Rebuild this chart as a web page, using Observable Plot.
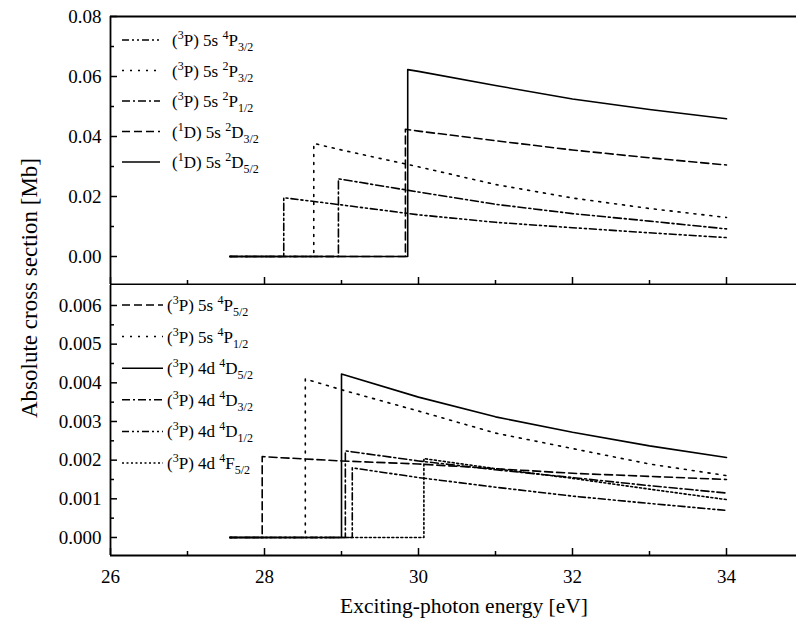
<!DOCTYPE html>
<html><head><meta charset="utf-8">
<script src="https://cdn.jsdelivr.net/npm/d3@7"></script>
<script src="https://cdn.jsdelivr.net/npm/@observablehq/plot@0.6"></script>
<style>
body{margin:0;background:#fff;}
#wrap{position:relative;width:796px;height:623px;overflow:hidden;font-family:"Liberation Serif","Times New Roman",serif;color:#000;}
#wrap svg{display:block;}
.ytitle{position:absolute;left:30px;top:288px;transform:translate(-50%,-50%) rotate(-90deg);font-size:23px;white-space:nowrap;}
.xtitle{position:absolute;left:464px;top:606px;transform:translate(-50%,-50%);font-size:21.5px;white-space:nowrap;}
</style></head><body><div id="wrap"></div><script>
// ---------- data ----------
const xTicksMajor = [26, 28, 30, 32, 34];
const xTicksMinor = [27, 29, 31, 33, 35];
const topTicksMajor = [0, 0.02, 0.04, 0.06, 0.08];
const topTicksMinor = [0.01, 0.03, 0.05, 0.07];
const botTicksMajor = [0, 0.001, 0.002, 0.003, 0.004, 0.005, 0.006];
const botTicksMinor = [0.0005, 0.0015, 0.0025, 0.0035, 0.0045, 0.0055];

// top panel series
const topLabels = ["(3P) 5s 4P3/2", "(3P) 5s 2P3/2", "(3P) 5s 2P1/2", "(1D) 5s 2D3/2", "(1D) 5s 2D5/2"];
const e_5s4P32 = [27.55, 28.25, 28.25, 29, 30, 31, 32, 33, 34];
const s_5s4P32 = [0, 0, 0.0196, 0.0172, 0.0139, 0.0114, 0.0096, 0.0079, 0.0063];
const e_5s2P32 = [27.55, 28.64, 28.64, 29, 30, 31, 32, 33, 34];
const s_5s2P32 = [0, 0, 0.0377, 0.0355, 0.0299, 0.0240, 0.0195, 0.0160, 0.0130];
const e_5s2P12 = [27.55, 28.96, 28.96, 30, 31, 32, 33, 34];
const s_5s2P12 = [0, 0, 0.0259, 0.0215, 0.0174, 0.0143, 0.0118, 0.0092];
const e_5s2D32 = [27.55, 29.83, 29.83, 30, 31, 32, 33, 34];
const s_5s2D32 = [0, 0, 0.0424, 0.0418, 0.0386, 0.0355, 0.0329, 0.0305];
const e_5s2D52 = [27.55, 29.86, 29.86, 30, 31, 32, 33, 34];
const s_5s2D52 = [0, 0, 0.0623, 0.0617, 0.0570, 0.0525, 0.0490, 0.0459];

// bottom panel series
const botLabels = ["(3P) 5s 4P5/2", "(3P) 5s 4P1/2", "(3P) 4d 4D5/2", "(3P) 4d 4D3/2", "(3P) 4d 4D1/2", "(3P) 4d 4F5/2"];
const e_5s4P52 = [27.55, 27.97, 27.97, 29, 30, 31, 32, 33, 34];
const s_5s4P52 = [0, 0, 0.00209, 0.00198, 0.00190, 0.00178, 0.00166, 0.00158, 0.00150];
const e_5s4P12 = [27.55, 28.53, 28.53, 29, 30, 31, 32, 33, 34];
const s_5s4P12 = [0, 0, 0.00410, 0.00382, 0.00327, 0.00270, 0.00230, 0.00190, 0.00160];
const e_4d4D52 = [27.55, 29.0, 29.0, 30, 31, 32, 33, 34];
const s_4d4D52 = [0, 0, 0.00423, 0.00363, 0.00312, 0.00272, 0.00237, 0.00207];
const e_4d4D32 = [27.55, 29.05, 29.05, 30, 31, 32, 33, 34];
const s_4d4D32 = [0, 0, 0.00224, 0.00198, 0.00175, 0.00155, 0.00134, 0.00115];
const e_4d4D12 = [27.55, 29.14, 29.14, 30, 31, 32, 33, 34];
const s_4d4D12 = [0, 0, 0.00180, 0.00155, 0.00130, 0.00107, 0.00088, 0.00070];
const e_4d4F52 = [27.55, 30.07, 30.07, 31, 32, 33, 34];
const s_4d4F52 = [0, 0, 0.00204, 0.00178, 0.00153, 0.00125, 0.00098];

// line styles
const topDash = ["7,3,2,3,2,3", "2,6", "8,3,2,3", "8,4", null];
const botDash = ["8,4", "2,6", null, "8,3,2,3", "7,3,2,3,2,3", "2,2.5"];

const topSeries = [[e_5s4P32, s_5s4P32], [e_5s2P32, s_5s2P32], [e_5s2P12, s_5s2P12], [e_5s2D32, s_5s2D32], [e_5s2D52, s_5s2D52]];
const botSeries = [[e_5s4P52, s_5s4P52], [e_5s4P12, s_5s4P12], [e_4d4D52, s_4d4D52], [e_4d4D32, s_4d4D32], [e_4d4D12, s_4d4D12], [e_4d4F52, s_4d4F52]];

// ---------- drawing ----------
(function () {
const W = 796, ML = 110;
const xDomain = [26, 35];

function addLegend(svg, labels, dashes, y0, dy, x1, x2, tx) {
  const g = d3.select(svg).append("g")
    .attr("font-family", '"Liberation Serif","Times New Roman",serif')
    .attr("font-size", 17).attr("fill", "black").attr("text-anchor", "start");
  labels.forEach((lab, i) => {
    const y = y0 + i * dy;
    g.append("line").attr("x1", x1).attr("x2", x2).attr("y1", y).attr("y2", y)
      .attr("stroke", "black").attr("stroke-width", 1.5)
      .attr("stroke-dasharray", dashes[i]);
    const m = lab.match(/^\((\d)(\w)\) (\w+) (\d)(\w)(\d\/\d)$/);
    const t = g.append("text").attr("x", tx).attr("y", y + 6);
    t.append("tspan").text("(");
    t.append("tspan").attr("font-size", 12).attr("dy", -7).text(m[1]);
    t.append("tspan").attr("dy", 7).text(m[2] + ") " + m[3] + " ");
    t.append("tspan").attr("font-size", 12).attr("dy", -7).text(m[4]);
    t.append("tspan").attr("dy", 7).text(m[5]);
    t.append("tspan").attr("font-size", 12).attr("dy", 5).text(m[6]);
  });
}

function panel({height, marginTop, marginBottom, yDomain, major, minor, fmt, series, dashes, xLabels, topLine}) {
  const plotH = height - marginTop - marginBottom;
  const plotW = W - ML;
  const marks = [];
  series.forEach(([xs, ys], k) => {
    marks.push(Plot.line(xs.map((x, i) => ({x, y: ys[i]})), {
      x: "x", y: "y", stroke: "black", strokeWidth: 1.6,
      strokeDasharray: dashes[k] || undefined
    }));
  });
  marks.push(Plot.ruleX([xDomain[0]], {stroke: "black", strokeWidth: 1.8}));
  marks.push(Plot.ruleY([yDomain[0]], {stroke: "black", strokeWidth: 1.8}));
  if (topLine) marks.push(Plot.ruleY([yDomain[1]], {stroke: "black", strokeWidth: 1.8}));
  marks.push(Plot.tickY(major, {stroke: "black", strokeWidth: 1.5, insetRight: plotW - 7}));
  marks.push(Plot.tickY(minor, {stroke: "black", strokeWidth: 1.5, insetRight: plotW - 4}));
  marks.push(Plot.tickX(xTicksMajor, {stroke: "black", strokeWidth: 1.5, insetTop: plotH - 7}));
  marks.push(Plot.tickX(xTicksMinor, {stroke: "black", strokeWidth: 1.5, insetTop: plotH - 4}));
  marks.push(Plot.axisY(major, {anchor: "left", tickSize: 0, tickPadding: 9, tickFormat: d3.format(fmt), fontSize: 19, label: null}));
  if (xLabels) marks.push(Plot.axisX(xTicksMajor, {anchor: "bottom", tickSize: 0, tickPadding: 14, tickFormat: d => String(d), fontSize: 19, label: null}));
  return Plot.plot({
    width: W, height, marginLeft: ML, marginRight: 0, marginTop, marginBottom,
    style: {fontFamily: '"Liberation Serif","Times New Roman",serif', color: "black", background: "white", overflow: "hidden"},
    x: {domain: xDomain, range: [110, 803], axis: null},
    y: {domain: yDomain, axis: null},
    marks
  });
}

const wrap = document.getElementById("wrap");
const topSvg = panel({height: 285, marginTop: 16, marginBottom: 1, yDomain: [-0.009333, 0.08],
  major: topTicksMajor, minor: topTicksMinor, fmt: ".2f", series: topSeries, dashes: topDash, xLabels: false, topLine: true});
addLegend(topSvg, topLabels, topDash, 40, 30.5, 122, 160, 172);
wrap.appendChild(topSvg);

const botSvg = panel({height: 338, marginTop: 0, marginBottom: 68, yDomain: [-0.000466, 0.006517],
  major: botTicksMajor, minor: botTicksMinor, fmt: ".3f", series: botSeries, dashes: botDash, xLabels: true, topLine: false});
addLegend(botSvg, botLabels, botDash, 20, 31.6, 122, 163, 167);
wrap.appendChild(botSvg);

const yt = document.createElement("div"); yt.className = "ytitle"; yt.textContent = "Absolute cross section [Mb]"; wrap.appendChild(yt);
const xt = document.createElement("div"); xt.className = "xtitle"; xt.textContent = "Exciting-photon energy [eV]"; wrap.appendChild(xt);
})();
</script></body></html>
